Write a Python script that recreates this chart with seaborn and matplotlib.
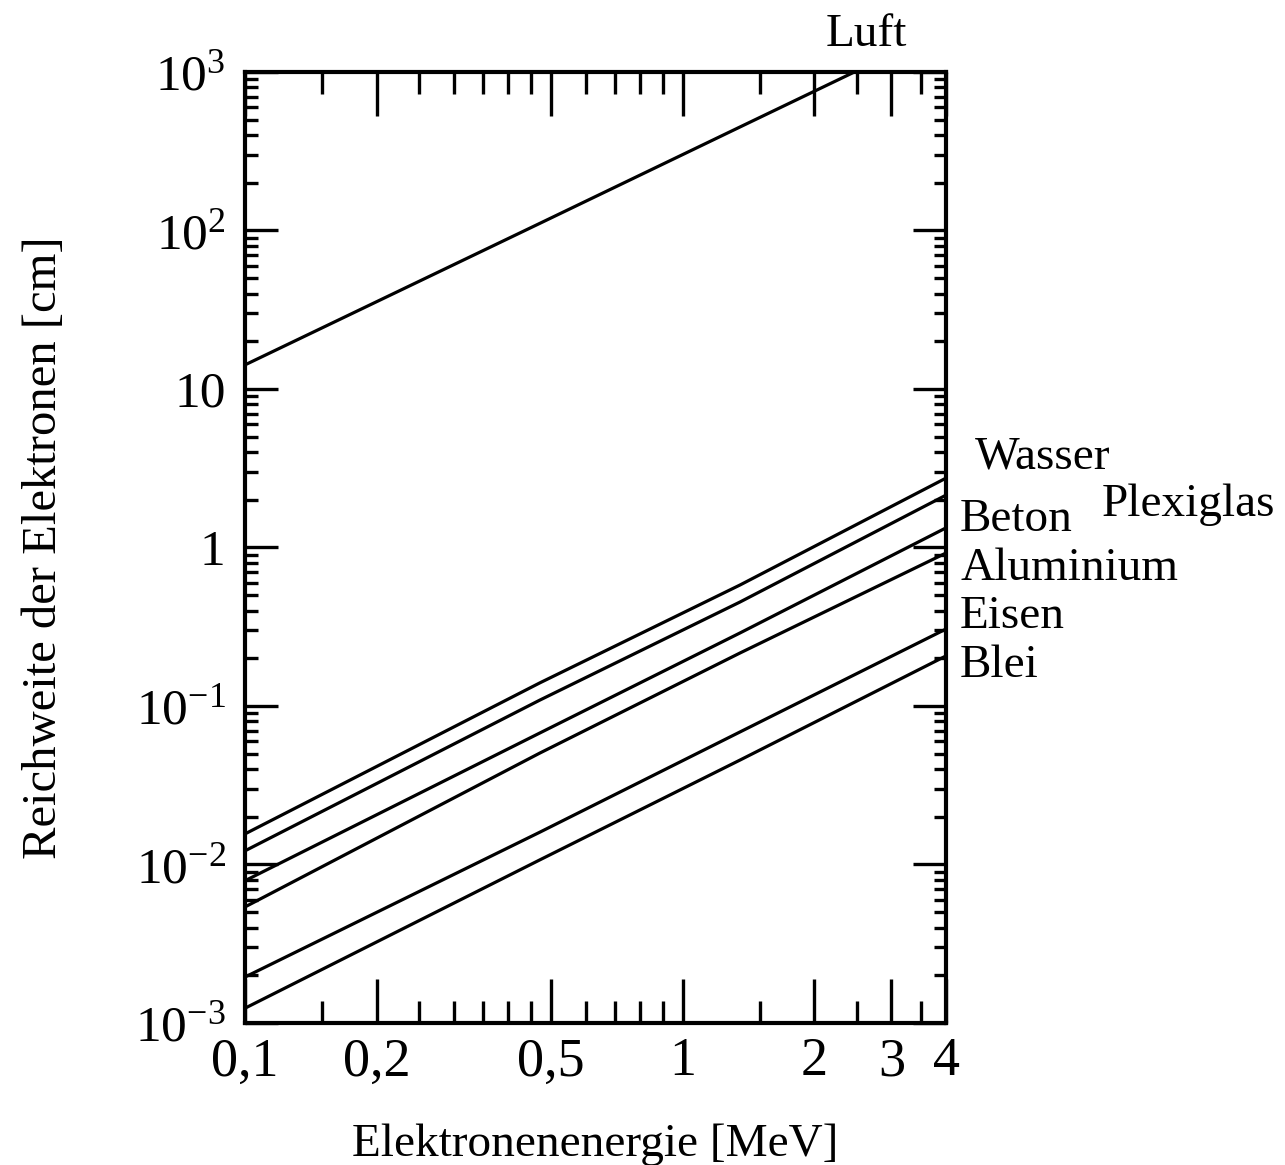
import numpy as np
import pandas as pd
import matplotlib
matplotlib.use("Agg")
import matplotlib.pyplot as plt
import seaborn as sns

# ---------------------------------------------------------------------------
# Data (electron range vs. energy, log-log)
# ---------------------------------------------------------------------------
energie = [0.1, 0.472, 1.353, 4.0]          # MeV
wasser = [0.0156, 0.140, 0.580, 2.74]       # cm
plexiglas = [0.0122, 0.109, 0.453, 2.14]
beton = [0.0079, 0.0676, 0.289, 1.33]
aluminium = [0.0054, 0.0505, 0.216, 0.923]
eisen = [0.00195, 0.0160, 0.0686, 0.306]
blei = [0.00124, 0.0107, 0.0456, 0.207]

luft_energie = [0.1, 0.472, 1.353, 2.47]
luft = [14.2, 111, 450, 1000]

x_major = [0.1, 0.2, 0.5, 1, 2, 3, 4]
x_major_labels = ["0,1", "0,2", "0,5", "1", "2", "3", "4"]
x_minor = [0.15, 0.25, 0.3, 0.35, 0.4, 0.45, 0.6, 0.7, 0.8, 0.9, 1.5, 2.5, 3.5]
y_major = [1e-3, 1e-2, 1e-1, 1, 10, 1e2, 1e3]
y_major_labels = [r"$10^{-3}$", r"$10^{-2}$", r"$10^{-1}$", "1", "10",
                  r"$10^{2}$", r"$10^{3}$"]

materials = ["Wasser", "Plexiglas", "Beton", "Aluminium", "Eisen", "Blei"]
series = [wasser, plexiglas, beton, aluminium, eisen, blei]

rows = []
for name, vals in zip(materials, series):
    for e, r in zip(energie, vals):
        rows.append({"Material": name, "E": e, "R": r})
for e, r in zip(luft_energie, luft):
    rows.append({"Material": "Luft", "E": e, "R": r})
df = pd.DataFrame(rows)

# ---------------------------------------------------------------------------
# Plot
# ---------------------------------------------------------------------------
sns.set_theme(style="ticks")
plt.rcParams["font.family"] = ["Liberation Serif", "DejaVu Serif"]
plt.rcParams["mathtext.fontset"] = "custom"
plt.rcParams["mathtext.rm"] = "Liberation Serif"
plt.rcParams["mathtext.it"] = "Liberation Serif:italic"
plt.rcParams["text.color"] = "black"
plt.rcParams["axes.labelcolor"] = "black"

fig = plt.figure(figsize=(12.85, 11.65), dpi=100)
ax = fig.add_axes([0.1907, 0.1219, 0.5455, 0.8163])

sns.lineplot(data=df, x="E", y="R", units="Material", estimator=None,
             sort=False, color="black", linewidth=2.3, ax=ax)

ax.set_xscale("log")
ax.set_yscale("log")
ax.set_xlim(0.1, 4)
ax.set_ylim(1e-3, 1e3)

ax.set_xticks(x_major)
ax.set_xticklabels(x_major_labels)
ax.set_xticks(x_minor, minor=True)
ax.set_xticklabels([], minor=True)
ax.set_yticks(y_major)
ax.set_yticklabels(y_major_labels)

ax.tick_params(axis="both", which="both", direction="in", top=True, right=True,
               width=2.4, colors="black")
ax.tick_params(axis="x", which="major", length=32, pad=10, labelsize=39)
ax.tick_params(axis="x", which="minor", length=16)
ax.tick_params(axis="y", which="major", length=24, pad=14, labelsize=37)
ax.tick_params(axis="y", which="minor", length=9)

for sp in ax.spines.values():
    sp.set_linewidth(3)
    sp.set_color("black")

ax.set_xlabel("Elektronenenergie [MeV]", fontsize=34, labelpad=26)
ax.set_ylabel("Reichweite der Elektronen [cm]", fontsize=35, labelpad=50)

# material labels to the right of the frame
ax.text(0.886, 1.039, "Luft", transform=ax.transAxes, fontsize=34,
        ha="center", va="center")
ax.text(1.041, 0.595, "Wasser", transform=ax.transAxes, fontsize=34,
        ha="left", va="center")
ax.text(1.222, 0.545, "Plexiglas", transform=ax.transAxes, fontsize=34,
        ha="left", va="center")
ax.text(1.02, 0.529, "Beton", transform=ax.transAxes, fontsize=34,
        ha="left", va="center")
ax.text(1.02, 0.478, "Aluminium", transform=ax.transAxes, fontsize=34,
        ha="left", va="center")
ax.text(1.02, 0.427, "Eisen", transform=ax.transAxes, fontsize=34,
        ha="left", va="center")
ax.text(1.02, 0.376, "Blei", transform=ax.transAxes, fontsize=34,
        ha="left", va="center")

fig.savefig("out.png", dpi=100, facecolor="white")
